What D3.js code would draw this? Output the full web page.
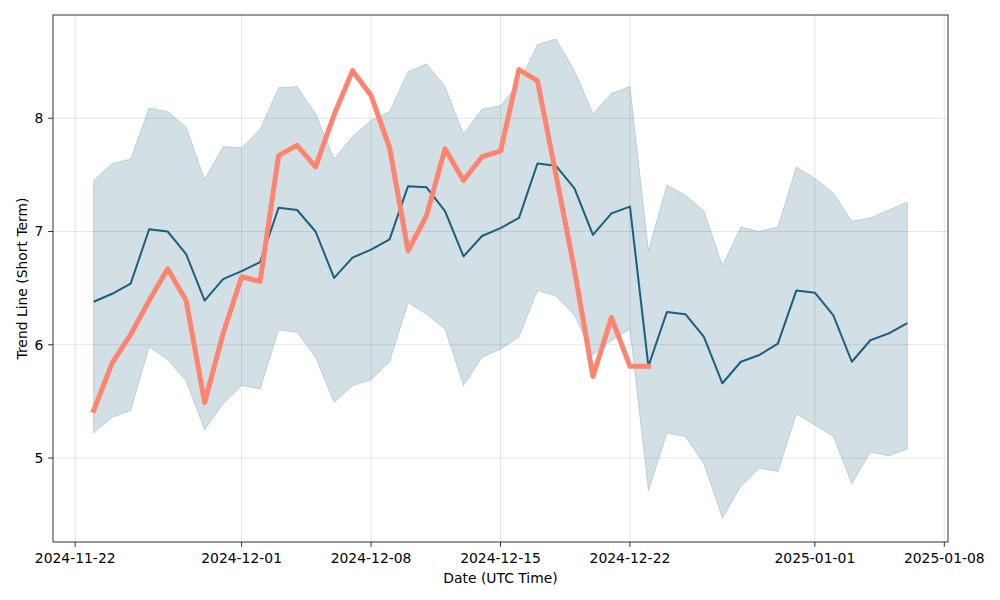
<!DOCTYPE html>
<html>
<head>
<meta charset="utf-8">
<script src="https://cdn.jsdelivr.net/npm/d3@7"></script>
<style>
  body { margin: 0; background: #fff; }
  text { font-family: "DejaVu Sans", sans-serif; fill: #000; }
</style>
</head>
<body>
<svg id="chart" width="1000" height="600"></svg>
<script>
const dates = [
  "2024-11-23","2024-11-24","2024-11-25","2024-11-26","2024-11-27","2024-11-28","2024-11-29","2024-11-30",
  "2024-12-01","2024-12-02","2024-12-03","2024-12-04","2024-12-05","2024-12-06","2024-12-07","2024-12-08",
  "2024-12-09","2024-12-10","2024-12-11","2024-12-12","2024-12-13","2024-12-14","2024-12-15","2024-12-16",
  "2024-12-17","2024-12-18","2024-12-19","2024-12-20","2024-12-21","2024-12-22","2024-12-23","2024-12-24",
  "2024-12-25","2024-12-26","2024-12-27","2024-12-28","2024-12-29","2024-12-30","2024-12-31","2025-01-01",
  "2025-01-02","2025-01-03","2025-01-04","2025-01-05","2025-01-06"
];
const trend = [
  6.38,6.45,6.54,7.02,7.00,6.80,6.39,6.58,6.65,6.73,7.21,7.19,7.00,6.59,6.77,6.84,
  6.93,7.40,7.39,7.18,6.78,6.96,7.03,7.12,7.60,7.58,7.38,6.97,7.16,7.22,5.81,6.29,
  6.27,6.07,5.66,5.85,5.91,6.01,6.48,6.46,6.26,5.85,6.04,6.10,6.19
];
const upper = [
  7.45,7.60,7.64,8.09,8.06,7.92,7.46,7.75,7.74,7.90,8.27,8.28,8.04,7.64,7.84,7.98,
  8.06,8.41,8.48,8.28,7.86,8.08,8.11,8.31,8.65,8.70,8.42,8.04,8.22,8.28,6.83,7.41,
  7.32,7.18,6.70,7.04,7.00,7.04,7.57,7.47,7.34,7.09,7.12,7.19,7.26
];
const lower = [
  5.22,5.36,5.42,5.98,5.87,5.68,5.25,5.48,5.64,5.61,6.13,6.11,5.89,5.49,5.64,5.69,
  5.85,6.37,6.27,6.14,5.64,5.89,5.96,6.07,6.48,6.43,6.26,5.91,6.04,6.14,4.71,5.22,
  5.19,4.95,4.47,4.75,4.91,4.88,5.39,5.29,5.19,4.77,5.05,5.02,5.08
];
const actual = [
  5.42,5.84,6.09,6.39,6.67,6.39,5.49,6.10,6.60,6.56,7.67,7.76,7.57,8.03,8.42,8.20,
  7.74,6.83,7.14,7.73,7.45,7.66,7.71,8.43,8.33,7.50,6.66,5.72,6.24,5.81,5.81
];
const xTickLabels = ["2024-11-22","2024-12-01","2024-12-08","2024-12-15","2024-12-22","2025-01-01","2025-01-08"];
const yTicks = [5, 6, 7, 8];

const parse = d3.utcParse("%Y-%m-%d");
const dt = dates.map(parse);

const svg = d3.select("#chart");
const L = 53, R = 948, T = 15, B = 542;

const DAY = 86400000;
const span = dt[dt.length - 1] - dt[0];
const xPad = span * 0.05;
const x = d3.scaleUtc()
  .domain([new Date(+dt[0] - xPad), new Date(+dt[dt.length - 1] + xPad)])
  .range([L, R]);

const yMin = d3.min(lower.concat(actual)), yMax = d3.max(upper.concat(actual));
const yPad = (yMax - yMin) * 0.05;
const y = d3.scaleLinear().domain([yMin - yPad, yMax + yPad]).range([B, T]);

const xTicks = xTickLabels.map(parse);

// grid
const grid = svg.append("g");
grid.selectAll("line.gx").data(xTicks).enter().append("line")
  .attr("x1", d => x(d)).attr("x2", d => x(d)).attr("y1", T).attr("y2", B)
  .attr("stroke", "#b0b0b0").attr("stroke-opacity", 0.4).attr("stroke-width", 0.8);
grid.selectAll("line.gy").data(yTicks).enter().append("line")
  .attr("y1", d => y(d)).attr("y2", d => y(d)).attr("x1", L).attr("x2", R)
  .attr("stroke", "#b0b0b0").attr("stroke-opacity", 0.4).attr("stroke-width", 0.8);

// band
const band = dt.map((d, i) => ({ d, lo: lower[i], hi: upper[i] }));
const area = d3.area().x(p => x(p.d)).y0(p => y(p.lo)).y1(p => y(p.hi));
svg.append("path").datum(band).attr("d", d => area(d) )
  .attr("fill", "#1f5f7f").attr("fill-opacity", 0.2)
  .attr("stroke", "#1f5f7f").attr("stroke-opacity", 0.2).attr("stroke-width", 1);

// trend line
const line = d3.line().x(p => x(p.d)).y(p => y(p.v));
svg.append("path").datum(dt.map((d, i) => ({ d, v: trend[i] })))
  .attr("d", line).attr("fill", "none")
  .attr("stroke", "#1b5e7e").attr("stroke-width", 2)
  .attr("stroke-linejoin", "round");

// actual line
svg.append("path").datum(actual.map((v, i) => ({ d: dt[i], v })))
  .attr("d", line).attr("fill", "none")
  .attr("stroke", "#fd8570").attr("stroke-width", 5)
  .attr("stroke-linejoin", "round").attr("stroke-linecap", "square");

// spines
svg.append("rect").attr("x", L).attr("y", T).attr("width", R - L).attr("height", B - T)
  .attr("fill", "none").attr("stroke", "#000").attr("stroke-width", 0.8);

// x axis
const xAxis = svg.append("g").attr("transform", `translate(0,${B})`);
const xt = xAxis.selectAll("g").data(xTicks).enter().append("g")
  .attr("transform", d => `translate(${x(d)},0)`);
xt.append("line").attr("y1", 0).attr("y2", 4.9).attr("stroke", "#000").attr("stroke-width", 0.8);
xt.append("text").attr("y", 20.5).attr("text-anchor", "middle").style("font-size", "13.9px")
  .text((d, i) => xTickLabels[i]);

// y axis
const yAxis = svg.append("g").attr("transform", `translate(${L},0)`);
const yt = yAxis.selectAll("g").data(yTicks).enter().append("g")
  .attr("transform", d => `translate(0,${y(d)})`);
yt.append("line").attr("x1", 0).attr("x2", -4.9).attr("stroke", "#000").attr("stroke-width", 0.8);
yt.append("text").attr("x", -9.7).attr("dy", "0.35em").attr("text-anchor", "end")
  .style("font-size", "13.9px").text(d => d);

// labels
svg.append("text").attr("x", (L + R) / 2).attr("y", 583).attr("text-anchor", "middle")
  .style("font-size", "13.9px").text("Date (UTC Time)");
svg.append("text").attr("transform", `translate(27,${(T + B) / 2}) rotate(-90)`)
  .attr("text-anchor", "middle").style("font-size", "13.9px").text("Trend Line (Short Term)");
</script>
</body>
</html>
